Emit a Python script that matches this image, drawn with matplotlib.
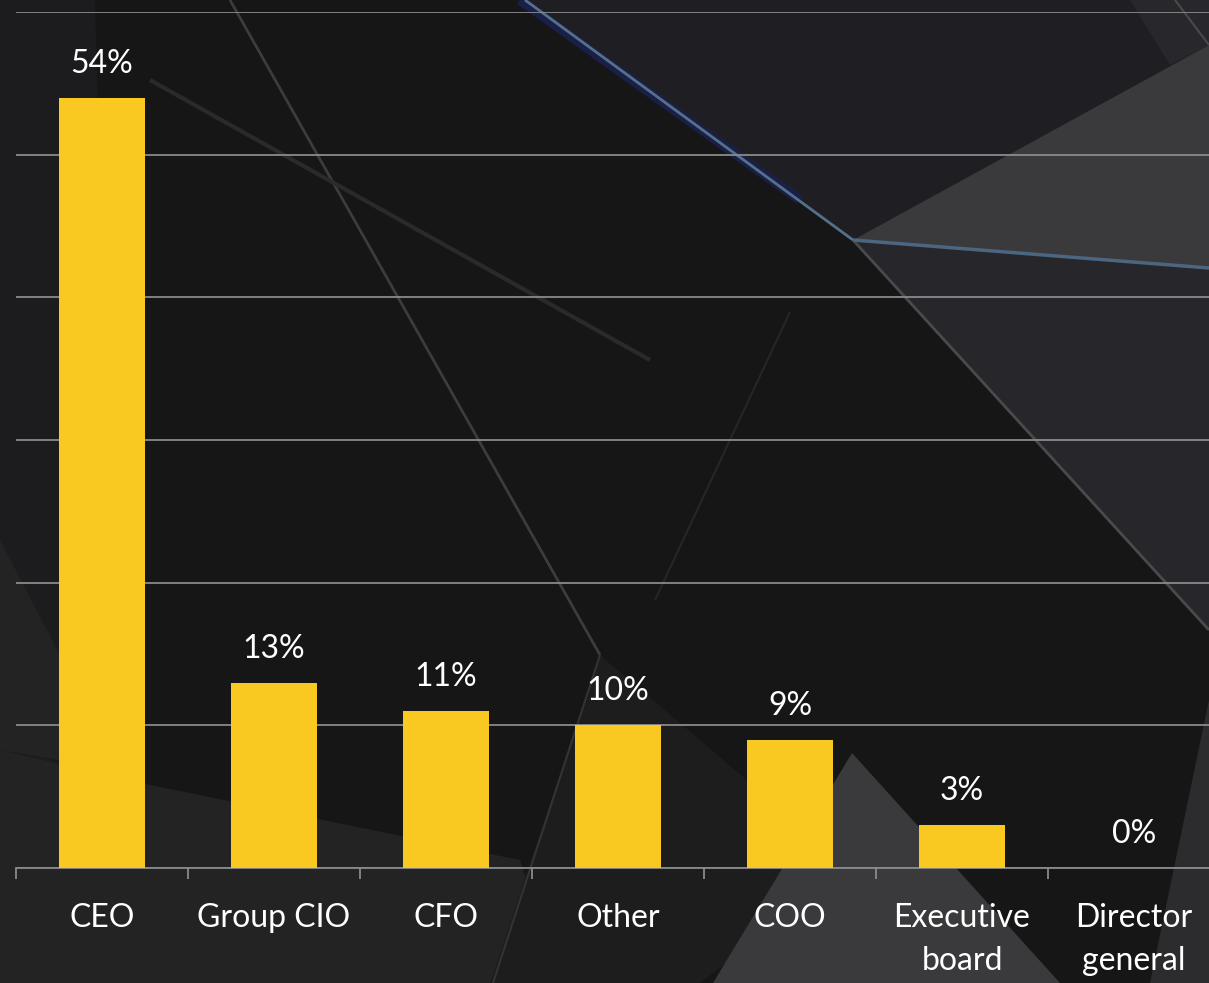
import matplotlib
matplotlib.use("Agg")
import matplotlib.pyplot as plt
from matplotlib.patches import Polygon

categories = ["CEO", "Group CIO", "CFO", "Other", "COO", "Executive\nboard", "Director\ngeneral"]
values = [54, 13, 11, 10, 9, 3, 0]
value_labels = ["54%", "13%", "11%", "10%", "9%", "3%", "0%"]
y_ticks = [0, 10, 20, 30, 40, 50, 60]

W, H = 1209, 983
fig = plt.figure(figsize=(W / 100, H / 100), dpi=100)
fig.patch.set_facecolor("#161616")

# decorative background in pixel coordinates
bg = fig.add_axes([0, 0, 1, 1], zorder=0)
bg.set_xlim(0, W)
bg.set_ylim(H, 0)
bg.axis("off")
polys = [
    ([(0, 0), (95, 0), (120, 983), (0, 983)], "#1c1c1e"),
    ([(520, 0), (1209, 0), (1209, 45), (853, 240)], "#1f1f23"),
    ([(1130, 0), (1209, 0), (1209, 45), (1170, 65)], "#28282c"),
    ([(853, 240), (1209, 45), (1209, 268)], "#3a3a3c"),
    ([(853, 240), (1209, 268), (1209, 630)], "#26262b"),
    ([(0, 750), (150, 785), (520, 860), (560, 983), (0, 983)], "#232323"),
    ([(0, 540), (120, 770), (0, 750)], "#232323"),
    ([(600, 655), (850, 868), (700, 983), (490, 983)], "#1d1d1d"),
    ([(852, 753), (1060, 983), (713, 983)], "#3a3a3c"),
    ([(1209, 700), (1209, 983), (1150, 983)], "#2c2c2e"),
]
for pts, c in polys:
    bg.add_patch(Polygon(pts, closed=True, facecolor=c, edgecolor="none"))
lines = [
    ([230, 600], [0, 655], "#3c3c3c", 2.0),
    ([150, 650], [80, 360], "#2a2a2a", 3.0),
    ([790, 655], [312, 600], "#262626", 1.5),
    ([600, 493], [655, 983], "#333333", 1.5),
    ([853, 1209], [240, 630], "#4a4a4c", 2.0),
    ([520, 800], [0, 200], "#1a1f48", 7.0),
    ([525, 853], [0, 240], "#55708a", 2.0),
    ([853, 1209], [240, 268], "#4a6680", 2.5),
    ([1175, 1209], [0, 45], "#4a4a4d", 1.5),
]
for xs, ys, c, lw in lines:
    bg.plot(xs, ys, color=c, lw=lw, solid_capstyle="butt")

# chart axes
ax = fig.add_axes([16 / W, (H - 868) / H, (1220 - 16) / W, (868 - 12) / H], zorder=1)
ax.patch.set_alpha(0)
x = list(range(len(categories)))
ax.bar(x, values, width=0.5, color="#F9C922", zorder=3)
ax.set_xlim(-0.5, len(categories) - 0.5)
ax.set_ylim(0, 60)
ax.set_yticks(y_ticks)
ax.yaxis.grid(True, color="#8a8a8a", lw=1.3)
ax.set_axisbelow(True)
ax.tick_params(axis="y", left=False, labelleft=False)
for s in ["left", "right", "top"]:
    ax.spines[s].set_visible(False)
ax.spines["bottom"].set_color("#8a8a8a")
ax.spines["bottom"].set_linewidth(1.3)

ax.set_xticks(x)
ax.set_xticklabels(categories, family="Lato", fontsize=23, color="white", linespacing=1.55)
ax.tick_params(axis="x", length=0, pad=25)
ax.set_xticks([i - 0.5 for i in range(len(categories) + 1)], minor=True)
ax.tick_params(axis="x", which="minor", length=8, width=1.3, color="#8a8a8a")

for xi, v, lab in zip(x, values, value_labels):
    ax.annotate(lab, (xi, v), xytext=(0, 18), textcoords="offset points",
                ha="center", va="baseline", family="Lato", fontsize=23, color="white")

fig.savefig("out.png", dpi=100, facecolor=fig.get_facecolor())
